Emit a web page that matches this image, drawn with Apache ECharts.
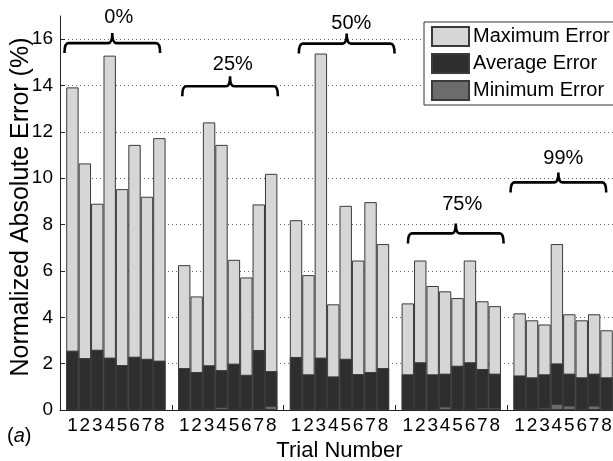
<!DOCTYPE html>
<html>
<head>
<meta charset="utf-8">
<script src="https://cdn.jsdelivr.net/npm/echarts@6/dist/echarts.min.js"></script>
<style>html,body{margin:0;padding:0;background:#fff}#c{width:613px;height:461px}</style>
</head>
<body>
<div id="c"></div>
<script>
// ---- data ----
const trials = ['1','2','3','4','5','6','7','8'];
const groups = ['0%','25%','50%','75%','99%'];
const maxError = [
  [13.92, 10.64, 8.90, 15.29, 9.53, 11.44, 9.20, 11.73],
  [6.25, 4.90, 12.41, 11.44, 6.48, 5.72, 8.87, 10.19],
  [8.19, 5.82, 15.38, 4.56, 8.81, 6.45, 8.97, 7.16],
  [4.60, 6.45, 5.35, 5.12, 4.83, 6.45, 4.69, 4.48],
  [4.17, 3.87, 3.69, 7.16, 4.13, 3.87, 4.13, 3.44]
];
const avgError = [
  [2.56, 2.24, 2.60, 2.26, 1.94, 2.30, 2.21, 2.13],
  [1.81, 1.64, 1.93, 1.72, 2.00, 1.52, 2.59, 1.68],
  [2.29, 1.54, 2.26, 1.45, 2.21, 1.55, 1.64, 1.81],
  [1.54, 2.06, 1.54, 1.57, 1.91, 2.06, 1.77, 1.57],
  [1.49, 1.41, 1.54, 2.01, 1.57, 1.41, 1.57, 1.41]
];
const minError = [
  [0.03, 0.03, 0.03, 0.03, 0.03, 0.03, 0.03, 0.03],
  [0.03, 0.03, 0.03, 0.12, 0.03, 0.03, 0.05, 0.18],
  [0.03, 0.03, 0.03, 0.03, 0.06, 0.03, 0.06, 0.03],
  [0.04, 0.03, 0.03, 0.15, 0.05, 0.04, 0.10, 0.10],
  [0.05, 0.06, 0.10, 0.26, 0.19, 0.06, 0.19, 0.05]
];
const yTicks = [0, 2, 4, 6, 8, 10, 12, 14, 16];
const yTitle = 'Normalized Absolute Error (%)';
const xTitle = 'Trial Number';
// brace annotations (data units): centre x, line y, label x, label y
const braceX = [4.21, 13.69, 23.08, 31.86, 40.12];
const braceY = [15.83, 13.97, 15.81, 7.62, 9.82];
const labelX = [4.73, 13.91, 23.45, 32.38, 40.52];
const labelY = [16.93, 14.92, 16.69, 8.88, 10.85];
const braceHalf = 3.85;

// ---- build ----
const slot = trials.length + 1;
function toPoints(arr) {
  const out = [];
  arr.forEach((g, gi) => g.forEach((v, i) => out.push([gi * slot + i + 1, v])));
  return out;
}
const FONT = 'Liberation Sans';
const border = '#3a3a3a';
const chart = echarts.init(document.getElementById('c'));
const barCommon = { type: 'bar', barWidth: 12.4, barGap: '-100%', animation: false };
chart.setOption({
  animation: false,
  textStyle: { fontFamily: FONT, color: '#000' },
  grid: { left: 60, top: 16, width: 559, height: 394, containLabel: false, outerBoundsMode: 'none' },
  legend: {
    orient: 'vertical', left: 424, top: 22,
    itemWidth: 37, itemHeight: 19, itemGap: 6,
    padding: [4, 8, 4, 7],
    icon: 'rect',
    backgroundColor: '#fff', borderColor: '#333', borderWidth: 1,
    textStyle: { fontSize: 20, fontFamily: FONT, color: '#000', padding: [0, 0, 0, -1] },
    data: ['Maximum Error', 'Average Error', 'Minimum Error']
  },
  xAxis: [{
    type: 'value', min: 0, max: slot * groups.length, interval: 1,
    name: xTitle, nameLocation: 'middle', nameGap: 28,
    nameTextStyle: { fontSize: 22, fontFamily: FONT, color: '#000' },
    axisLine: { show: true, lineStyle: { color: '#222', width: 1 } },
    axisTick: { show: false },
    splitLine: { show: false },
    axisLabel: {
      fontSize: 19, fontFamily: FONT, color: '#000', margin: 6,
      formatter: v => { const k = Math.round(v) % slot; return (k === 0) ? '' : trials[k - 1]; }
    }
  }, {
    type: 'value', position: 'bottom', min: 0, max: slot * groups.length, interval: slot,
    axisLine: { show: false }, axisLabel: { show: false }, splitLine: { show: false },
    axisTick: { show: true, inside: true, length: 5, lineStyle: { color: '#222' } }
  }],
  yAxis: {
    type: 'value', min: 0, max: 17, interval: 2,
    axisLine: { show: true, lineStyle: { color: '#222', width: 1 } },
    axisTick: { show: true, inside: true, length: 5, lineStyle: { color: '#222' } },
    axisLabel: {
      fontSize: 19, fontFamily: FONT, color: '#000', margin: 7, showMaxLabel: false,
      formatter: v => (yTicks.indexOf(v) >= 0 ? String(v) : '')
    },
    splitLine: { show: true, showMaxLine: false, lineStyle: { color: '#666', type: [1, 3], width: 1 } }
  },
  series: [
    Object.assign({}, barCommon, { name: 'Maximum Error', data: toPoints(maxError),
      itemStyle: { color: '#d6d6d6', borderColor: border, borderWidth: 1 } }),
    Object.assign({}, barCommon, { name: 'Average Error', data: toPoints(avgError),
      itemStyle: { color: '#2e2e2e', borderColor: border, borderWidth: 1 } }),
    Object.assign({}, barCommon, { name: 'Minimum Error', data: toPoints(minError),
      itemStyle: { color: '#6c6c6c', borderColor: border, borderWidth: 1 } }),
    {
      type: 'custom', name: 'braces', clip: false, silent: true, z: 5,
      data: braceX.map((x, i) => [x, braceY[i]]),
      encode: { x: 0, y: 1 },
      renderItem: function (params, api) {
        const i = params.dataIndex;
        const pL = api.coord([braceX[i] - braceHalf, braceY[i]]);
        const pR = api.coord([braceX[i] + braceHalf, braceY[i]]);
        const pC = api.coord([braceX[i], braceY[i]]);
        const pT = api.coord([labelX[i], labelY[i]]);
        const y = pC[1], h = 10, r = 4;
        const d = 'M' + pL[0] + ' ' + (y + h) +
          ' Q' + pL[0] + ' ' + y + ' ' + (pL[0] + r) + ' ' + y +
          ' L' + (pC[0] - r) + ' ' + y +
          ' Q' + pC[0] + ' ' + y + ' ' + pC[0] + ' ' + (y - h) +
          ' Q' + pC[0] + ' ' + y + ' ' + (pC[0] + r) + ' ' + y +
          ' L' + (pR[0] - r) + ' ' + y +
          ' Q' + pR[0] + ' ' + y + ' ' + pR[0] + ' ' + (y + h);
        return {
          type: 'group',
          children: [
            { type: 'path', shape: { pathData: d }, style: { stroke: '#000', lineWidth: 2.6, fill: 'none' } },
            { type: 'text', x: pT[0], y: pT[1], style: { text: groups[i], align: 'center', verticalAlign: 'middle',
              font: '20px "' + FONT + '"', fill: '#000' } }
          ]
        };
      }
    }
  ],
  graphic: [{
    type: 'text', x: 21, y: 207, rotation: Math.PI / 2,
    style: { text: yTitle, align: 'center', verticalAlign: 'middle', font: '25px "' + FONT + '"', fill: '#000' }
  }, {
    type: 'text', left: 7, top: 426,
    style: {
      text: '({i|a})', font: '20px "' + FONT + '"', fill: '#000',
      rich: { i: { fontStyle: 'italic', fontSize: 20, fontFamily: FONT } }
    }
  }]
});
</script>
</body>
</html>
